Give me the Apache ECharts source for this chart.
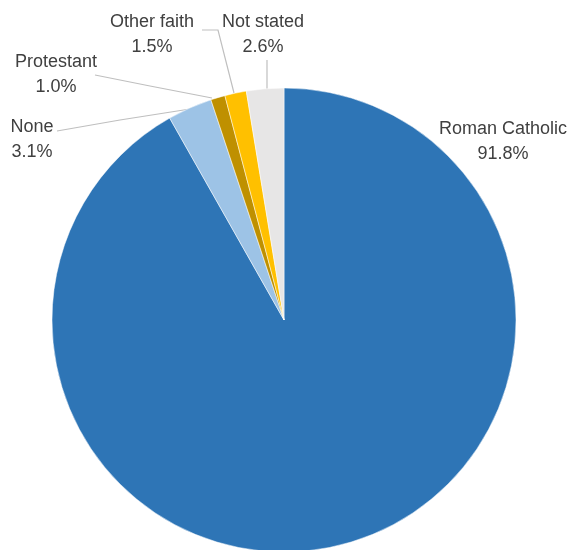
<!DOCTYPE html>
<html>
<head>
<meta charset="utf-8">
<script src="https://cdn.jsdelivr.net/npm/echarts@6/dist/echarts.min.js"></script>
<style>
html,body{margin:0;padding:0;background:#fff;}
#c{width:569px;height:550px;}
</style>
</head>
<body>
<div id="c"></div>
<script>
var categories = ['Roman Catholic', 'None', 'Protestant', 'Other faith', 'Not stated'];
var values = [91.8, 3.1, 1.0, 1.5, 2.6];
var colors = ['#2E75B6', '#9DC3E6', '#BF9000', '#FFC000', '#E7E6E6'];

// label layout (pixel positions of label centres and leader lines)
var labelPos = [
  {x: 503, y: 142, line: null},
  {x: 32, y: 140, line: [[57, 131], [120, 120], [190, 109]]},
  {x: 56, y: 75, line: [[95, 75], [150, 86], [212, 98]]},
  {x: 152, y: 35, line: [[202, 30], [218, 30], [234, 93]]},
  {x: 263, y: 35, line: [[267, 60], [267, 75], [267, 93]]}
];

var chart = echarts.init(document.getElementById('c'));
var data = categories.map(function (name, i) {
  return {name: name, value: values[i], itemStyle: {color: colors[i]}};
});
chart.setOption({
  animation: false,
  series: [{
    type: 'pie',
    center: [284, 320],
    radius: [0, 232],
    startAngle: 90,
    clockwise: true,
    data: data,
    itemStyle: {borderColor: '#fff', borderWidth: 0.5},
    label: {
      show: true,
      position: 'outside',
      overflow: 'none',
      formatter: function (p) { return p.name + '\n' + p.value.toFixed(1) + '%'; },
      fontFamily: 'Liberation Sans',
      fontSize: 18,
      lineHeight: 25,
      color: '#404040',
      align: 'center'
    },
    labelLine: {
      show: true,
      smooth: false,
      lineStyle: {color: '#BFBFBF', width: 1.2}
    },
    labelLayout: function (params) {
      var p = labelPos[params.dataIndex];
      var r = {x: p.x, y: p.y, align: 'center', verticalAlign: 'middle', width: 200};
      if (p.line) { r.labelLinePoints = p.line; }
      else { r.labelLinePoints = [[p.x, p.y], [p.x, p.y], [p.x, p.y]]; }
      return r;
    }
  }]
});
</script>
</body>
</html>
